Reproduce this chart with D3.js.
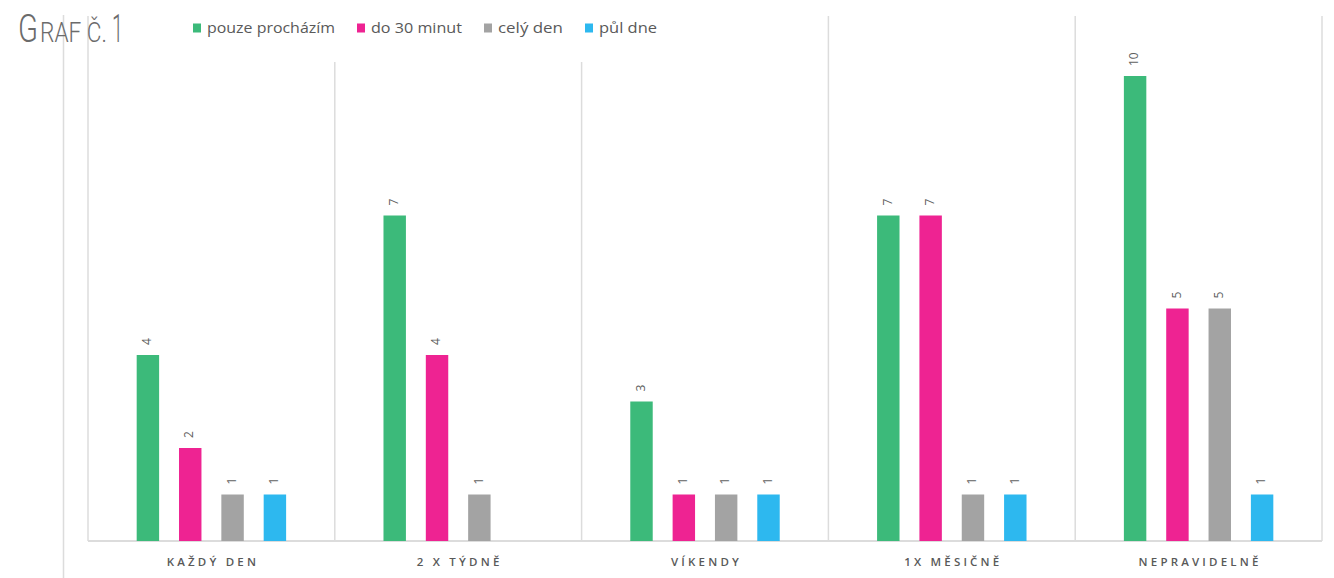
<!DOCTYPE html>
<html><head><meta charset="utf-8">
<script src="https://cdn.jsdelivr.net/npm/d3@7"></script>
<style>html,body{margin:0;padding:0;background:#fff;}svg{display:block;}</style>
</head><body>
<svg id="chart" width="1334" height="578"></svg>
<script>
const categories = ["KAŽDÝ DEN", "2 X TÝDNĚ", "VÍKENDY", "1X MĚSIČNĚ", "NEPRAVIDELNĚ"];
const seriesNames = ["pouze procházím", "do 30 minut", "celý den", "půl dne"];
const pouzeProchazim = [4, 7, 3, 7, 10];
const do30Minut = [2, 4, 1, 7, 5];
const celyDen = [1, 1, 1, 1, 5];
const pulDne = [1, null, 1, 1, 1];
const seriesColors = ["#3cba7a", "#ee2392", "#a3a3a3", "#2db8ef"];
const legendWidths = [128, 91, 65, 58];
const titleParts = [
  {text: "G", x: 18, len: 20, size: 38},
  {text: "RAF Č.", x: 40, len: 67, size: 28},
  {text: "1", x: 112, len: 11, size: 38}
];

const allSeries = [pouzeProchazim, do30Minut, celyDen, pulDne];
const svg = d3.select("#chart");
const W = 1334, H = 578;
const plot = {left: 88, right: 1322, top: 16, bottom: 541};

const x0 = d3.scaleBand().domain(categories).range([plot.left, plot.right]);
const x1 = d3.scaleBand().domain(seriesNames).range([0, x0.bandwidth()])
  .paddingInner(0.47).paddingOuter(1.15);
const y = d3.scaleLinear().domain([0, 10]).range([plot.bottom, 76]);

const lineCol = "#dcdcdc";
svg.append("line").attr("x1", 63.5).attr("x2", 63.5).attr("y1", 15).attr("y2", H)
  .attr("stroke", lineCol).attr("stroke-width", 1.5);
const bounds = categories.map(c => x0(c)).concat([plot.right]);
bounds.forEach(b => {
  const topY = (b > 300 && b < 700) ? 62 : plot.top;
  svg.append("line").attr("x1", b).attr("x2", b).attr("y1", topY).attr("y2", plot.bottom)
    .attr("stroke", lineCol).attr("stroke-width", 1.5);
});
svg.append("line").attr("x1", plot.left).attr("x2", plot.right).attr("y1", plot.bottom).attr("y2", plot.bottom)
  .attr("stroke", lineCol).attr("stroke-width", 2);

const data = [];
categories.forEach((c, ci) => {
  seriesNames.forEach((s, si) => {
    const v = allSeries[si][ci];
    if (v != null) data.push({c, s, si, v});
  });
});
const g = svg.append("g");
g.selectAll("rect").data(data).join("rect")
  .attr("x", d => x0(d.c) + x1(d.s))
  .attr("y", d => y(d.v))
  .attr("width", x1.bandwidth())
  .attr("height", d => y(0) - y(d.v))
  .attr("fill", d => seriesColors[d.si]);

g.selectAll("text.val").data(data).join("text").attr("class", "val")
  .attr("transform", d => `translate(${x0(d.c) + x1(d.s) + x1.bandwidth() / 2},${y(d.v) - 10}) rotate(-90)`)
  .attr("text-anchor", "start").attr("dominant-baseline", "middle")
  .attr("font-family", "Open Sans, sans-serif").attr("font-size", 12)
  .attr("fill", "#5f5f5f").text(d => d.v);

svg.append("g").selectAll("text").data(categories).join("text")
  .attr("x", d => x0(d) + x0.bandwidth() / 2 + 1.5)
  .attr("y", 566)
  .attr("text-anchor", "middle")
  .attr("font-family", "Open Sans, sans-serif").attr("font-size", 11.5)
  .attr("font-weight", 600).attr("letter-spacing", 3.2)
  .attr("fill", "#595959").text(d => d);

const lg = svg.append("g");
let lx = 193;
seriesNames.forEach((s, i) => {
  lg.append("rect").attr("x", lx).attr("y", 23.5).attr("width", 8).attr("height", 9).attr("fill", seriesColors[i]);
  lg.append("text").attr("x", lx + 14).attr("y", 33)
    .attr("font-family", "Open Sans, sans-serif").attr("font-size", 14)
    .attr("textLength", legendWidths[i]).attr("lengthAdjust", "spacingAndGlyphs")
    .attr("fill", "#595959").text(s);
  lx += 14 + legendWidths[i] + 22;
});

svg.append("g").selectAll("text").data(titleParts).join("text")
  .attr("font-family", "Roboto, sans-serif").attr("font-weight", 300)
  .attr("font-size", d => d.size)
  .attr("fill", "#6b6b6b").text(d => d.text)
  .each(function(d) {
    const w = this.getComputedTextLength();
    d3.select(this).attr("transform", `translate(${d.x},42) scale(${d.len / w},1)`);
  });
</script>
</body></html>
